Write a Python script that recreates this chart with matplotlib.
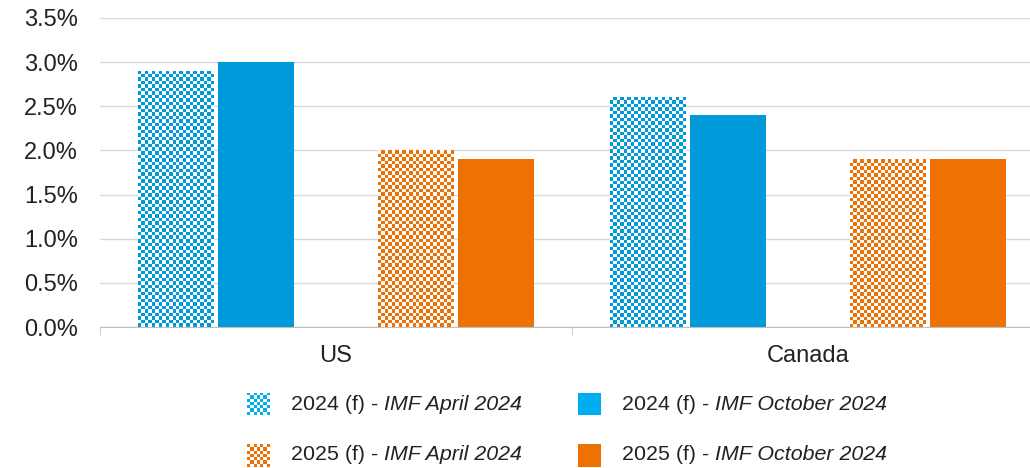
import numpy as np
import matplotlib
matplotlib.use("Agg")
import matplotlib.pyplot as plt
from matplotlib.colors import to_rgba
from matplotlib.ticker import FuncFormatter, FixedLocator

plt.rcParams['font.family'] = ['Liberation Sans', 'DejaVu Sans']

# 数据
countries = ["US", "Canada"]
series_names = ["2024 (f) - |IMF April 2024", "2024 (f) - |IMF October 2024",
                "2025 (f) - |IMF April 2024", "2025 (f) - |IMF October 2024"]
vals_2024_apr = [2.9, 2.6]
vals_2024_oct = [3.0, 2.4]
vals_2025_apr = [2.0, 1.9]
vals_2025_oct = [1.9, 1.9]

blue = "#0099DA"
blue_leg = "#00AEEF"
orange = "#EE7203"

series = [(vals_2024_apr, blue, True), (vals_2024_oct, blue, False),
          (vals_2025_apr, orange, True), (vals_2025_oct, orange, False)]
offsets = [-2, -1, 1, 2]
slot = 0.170
bar_w = 0.161
cell_px = 3.5

W, H, DPI = 1030, 468, 100
ax_w_px = 944
ax_h_px = 309
fig = plt.figure(figsize=(W / DPI, H / DPI), dpi=DPI)
ax = fig.add_axes([100 / W, 1 - 327 / H, ax_w_px / W, ax_h_px / H])


def checker(nx, ny, color):
    yy, xx = np.mgrid[0:ny, 0:nx]
    mask = (xx + yy) % 2 == 0
    img = np.ones((ny, nx, 4))
    img[mask] = to_rgba(color)
    return img


x_span = 2.0
y_span = 3.5

for (vals, color, pattern), off in zip(series, offsets):
    x = np.arange(len(countries)) + off * slot
    bars = ax.bar(x, vals, width=bar_w, color="white" if pattern else color,
                  edgecolor="none", zorder=3)
    if pattern:
        for b in bars:
            x0, w, h = b.get_x(), b.get_width(), b.get_height()
            nx = max(1, int(round(w / x_span * ax_w_px / cell_px)))
            ny = max(1, int(round(h / y_span * ax_h_px / cell_px)))
            im = ax.imshow(checker(nx, ny, color), extent=[x0, x0 + w, 0, h],
                           origin="lower", aspect="auto", interpolation="nearest",
                           zorder=3.5)
            im.set_clip_path(b)

ax.set_xlim(-0.5, 1.5)
ax.set_ylim(0, 3.5)
ax.set_yticks(np.arange(0, 3.51, 0.5))
ax.yaxis.set_major_formatter(FuncFormatter(lambda v, p: f"{v:.1f}%"))
ax.set_xticks([0, 1])
ax.set_xticklabels(countries)
ax.xaxis.set_minor_locator(FixedLocator([-0.5, 0.5, 1.5]))
ax.tick_params(axis="x", which="major", length=0, pad=13, labelsize=17, colors="#222222")
ax.tick_params(axis="x", which="minor", length=6, color="#BFBFBF")
ax.tick_params(axis="y", length=0, pad=16, labelsize=17, labelcolor="#222222")
ax.grid(axis="y", color="#D9D9D9", linewidth=1, zorder=0)
for s in ["left", "right", "top"]:
    ax.spines[s].set_visible(False)
ax.spines["bottom"].set_color("#BFBFBF")
ax.spines["bottom"].set_zorder(4)

# 图例（手动绘制）
leg_items = [(series_names[0], blue_leg, True, 247, 404),
             (series_names[1], blue_leg, False, 578, 404),
             (series_names[2], orange, True, 247, 455),
             (series_names[3], orange, False, 578, 455)]
sw = 23
renderer = fig.canvas.get_renderer()
for label, color, pattern, px, py in leg_items:
    lax = fig.add_axes([px / W, 1 - (py + sw / 2) / H, sw / W, sw / H])
    if pattern:
        lax.imshow(checker(7, 7, color), interpolation="nearest", aspect="auto")
    else:
        lax.imshow(np.ones((1, 1, 4)) * np.array(to_rgba(color)), aspect="auto")
    lax.axis("off")
    normal, ital = label.split("|")
    t = fig.text((px + 44) / W, 1 - py / H, normal, fontsize=15.4, va="center",
                 color="#222222")
    bb = t.get_window_extent(renderer)
    fig.text(bb.x1 / W, 1 - py / H, ital, fontsize=15.4, va="center",
             style="italic", color="#222222")

fig.savefig("out.png", dpi=DPI)
